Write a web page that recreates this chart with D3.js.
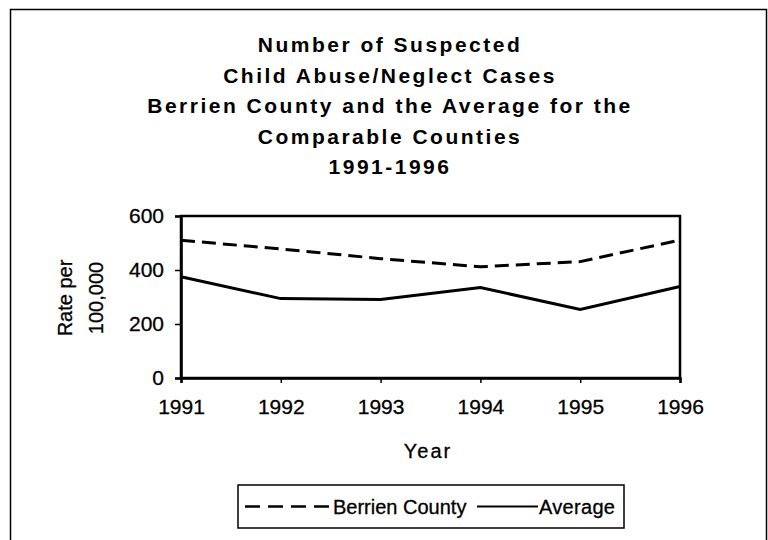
<!DOCTYPE html>
<html>
<head>
<meta charset="utf-8">
<script src="https://cdn.jsdelivr.net/npm/d3@7"></script>
<style>
  body { margin: 0; background: #fff; }
  svg { display: block; font-family: "Liberation Sans", Arial, sans-serif; }
</style>
</head>
<body>
<svg id="chart" width="768" height="540"></svg>
<script>
const years = [1991, 1992, 1993, 1994, 1995, 1996];
const berrien = [510, 478, 442, 412, 431, 511];
const average = [375, 294, 291, 335, 254, 339];
const yTicks = [0, 200, 400, 600];
const titleLines = ["Number of Suspected", "Child Abuse/Neglect Cases",
  "Berrien County and the Average for the", "Comparable Counties", "1991-1996"];

const svg = d3.select("#chart");
const margin = { left: 181, right: 88, top: 216, bottom: 162 };
const width = 768, height = 540;

// outer frame (bottom runs off the page)
svg.append("path")
  .attr("d", "M10.5,560 V9.5 H766.5 V560")
  .attr("fill", "none").attr("stroke", "#000").attr("stroke-width", 1.5);

// title
svg.append("g").selectAll("text")
  .data(titleLines).enter().append("text")
  .attr("x", 390)
  .attr("y", (d, i) => 52 + i * 30.5)
  .attr("text-anchor", "middle")
  .attr("font-size", 21).attr("font-weight", "bold")
  .attr("letter-spacing", 2.5)
  .text(d => d);

let x = d3.scaleLinear()
  .domain([1991, 1996])
  .range([margin.left, width - margin.right]);

let y = d3.scaleLinear()
  .domain([0, 600])
  .range([height - margin.bottom, margin.top]);

// plot box
svg.append("rect")
  .attr("x", x(1991)).attr("y", y(600))
  .attr("width", x(1996) - x(1991)).attr("height", y(0) - y(600))
  .attr("fill", "none").attr("stroke", "#000").attr("stroke-width", 2.5);

let xAxis = svg.append("g")
  .attr("transform", `translate(0,${y(0)})`)
  .call(d3.axisBottom(x).tickValues(years).tickFormat(d3.format("d")).tickSize(5).tickPadding(16));
let yAxis = svg.append("g")
  .attr("transform", `translate(${x(1991)},0)`)
  .call(d3.axisLeft(y).tickValues(yTicks).tickSize(6).tickPadding(11));

[xAxis, yAxis].forEach(a => {
  a.select(".domain").attr("stroke-width", 2.5);
  a.selectAll("line").attr("stroke-width", 1.5);
  a.selectAll("text").attr("font-size", 21).attr("fill", "#000")
    .attr("stroke", "#000").attr("stroke-width", 0.3)
    .attr("font-family", "'Liberation Sans', Arial, sans-serif");
});

const line = d3.line().x((d, i) => x(years[i])).y(d => y(d));

svg.append("path").datum(berrien)
  .attr("d", line).attr("fill", "none").attr("stroke", "#000")
  .attr("stroke-width", 3).attr("stroke-dasharray", "14,7");

svg.append("path").datum(average)
  .attr("d", line).attr("fill", "none").attr("stroke", "#000")
  .attr("stroke-width", 3);

// axis titles
svg.append("text")
  .attr("x", 428).attr("y", 458)
  .attr("text-anchor", "middle").attr("font-size", 20).attr("letter-spacing", 2)
  .attr("stroke", "#000").attr("stroke-width", 0.3)
  .text("Year");

let yl = svg.append("text")
  .attr("transform", "translate(0,298) rotate(-90)")
  .attr("text-anchor", "middle").attr("font-size", 20)
  .attr("stroke", "#000").attr("stroke-width", 0.3);
yl.append("tspan").attr("x", 0).attr("y", 72).text("Rate per");
yl.append("tspan").attr("x", 0).attr("y", 103).text("100,000");

// legend
let lg = svg.append("g");
lg.append("rect")
  .attr("x", 238).attr("y", 485).attr("width", 386).attr("height", 43)
  .attr("fill", "none").attr("stroke", "#000").attr("stroke-width", 1.5);
lg.append("line")
  .attr("x1", 245).attr("x2", 329).attr("y1", 506.5).attr("y2", 506.5)
  .attr("stroke", "#000").attr("stroke-width", 2.5).attr("stroke-dasharray", "15,8");
lg.append("text").attr("x", 333).attr("y", 514).attr("font-size", 20)
  .attr("stroke", "#000").attr("stroke-width", 0.3).text("Berrien County");
lg.append("line")
  .attr("x1", 477).attr("x2", 538).attr("y1", 506.5).attr("y2", 506.5)
  .attr("stroke", "#000").attr("stroke-width", 2);
lg.append("text").attr("x", 539).attr("y", 514).attr("font-size", 20).attr("letter-spacing", 0.3)
  .attr("stroke", "#000").attr("stroke-width", 0.3).text("Average");
</script>
</body>
</html>
